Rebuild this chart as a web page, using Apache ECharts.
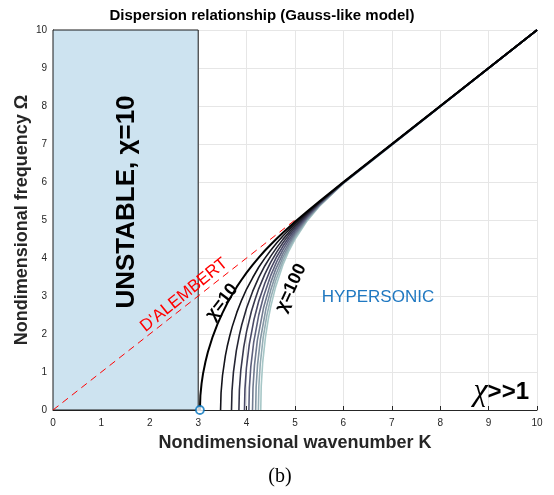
<!DOCTYPE html>
<html>
<head>
<meta charset="utf-8">
<script src="https://cdn.jsdelivr.net/npm/echarts@6/dist/echarts.min.js"></script>
<style>
html,body{margin:0;padding:0;background:#fff;}
#c{width:554px;height:495px;}
</style>
</head>
<body>
<div id="c"></div>
<script>
// ---- data ----
const xTicks = [0,1,2,3,4,5,6,7,8,9,10];
const yTicks = [0,1,2,3,4,5,6,7,8,9,10];
const chiValues = [10,20,30,40,50,60,70,80,90,100];
const unstableK = [0, 3];          // shaded unstable band (K range)
const unstableOmega = [0, 10];
const alembertK = [0, 5];
const alembertOmega = [0, 5];
const cutoffK = [3.035];
const cutoffOmega = [0];

const kChi10 = [3.035,3.045,3.07,3.1,3.15,3.2,3.3,3.4,3.5,3.6,3.7,3.8,3.9,4.0,4.125,4.25,4.375,4.5,4.625,4.75,4.875,5.0,5.25,5.5,6,10];
const wChi10 = [0,0.378,0.702,0.957,1.27,1.525,1.933,2.266,2.55,2.808,3.035,3.246,3.435,3.615,3.82,4.011,4.19,4.355,4.515,4.665,4.81,4.952,5.223,5.486,5.996,10];
const kChi20 = [3.462,3.472,3.502,3.562,3.6,3.65,3.7,3.8,3.9,4.0,4.125,4.25,4.375,4.5,4.625,4.75,4.875,5.0,5.25,5.5,6,10];
const wChi20 = [0,0.455,0.908,1.429,1.676,1.94,2.181,2.575,2.90,3.184,3.48,3.757,3.99,4.206,4.40,4.578,4.745,4.903,5.196,5.471,5.993,10];
const kChi30 = [3.688,3.698,3.728,3.788,3.85,3.9,4.0,4.125,4.25,4.375,4.5,4.625,4.75,4.875,5.0,5.25,5.5,6,10];
const wChi30 = [0,0.500,0.997,1.564,1.972,2.242,2.685,3.12,3.484,3.79,4.050,4.28,4.490,4.68,4.853,5.169,5.457,5.989,10];
const kChi40 = [3.841,3.851,3.881,3.941,4.0,4.1,4.175,4.25,4.375,4.5,4.625,4.75,4.875,5.0,5.25,5.5,6,10];
const wChi40 = [0,0.532,1.058,1.657,2.068,2.598,2.91,3.188,3.57,3.889,4.16,4.400,4.615,4.803,5.142,5.443,5.985,10];
const kChi50 = [3.956,3.966,3.996,4.056,4.15,4.25,4.375,4.5,4.625,4.75,4.875,5.0,5.25,5.5,6,10];
const wChi50 = [0,0.556,1.105,1.728,2.367,2.861,3.33,3.720,4.04,4.308,4.545,4.753,5.115,5.428,5.981,10];
const kChi60 = [4.047,4.057,4.087,4.147,4.25,4.35,4.5,4.625,4.75,4.875,5.0,5.25,5.5,6,10];
const wChi60 = [0,0.575,1.142,1.785,2.492,2.985,3.544,3.91,4.214,4.475,4.702,5.087,5.414,5.978,10];
const kChi70 = [4.122,4.132,4.162,4.222,4.35,4.5,4.6,4.75,4.875,5.0,5.25,5.5,6,10];
const wChi70 = [0,0.591,1.174,1.832,2.690,3.358,3.700,4.117,4.40,4.650,5.060,5.399,5.974,10];
const kChi80 = [4.187,4.197,4.227,4.287,4.4,4.5,4.6,4.75,4.875,5.0,5.25,5.5,6,10];
const wChi80 = [0,0.604,1.201,1.873,2.667,3.162,3.553,4.019,4.33,4.598,5.032,5.385,5.970,10];
const kChi90 = [4.243,4.253,4.283,4.343,4.42,4.5,4.6,4.75,4.875,5.0,5.25,5.5,6,10];
const wChi90 = [0,0.617,1.224,1.909,2.497,2.952,3.400,3.918,4.26,4.545,5.004,5.370,5.967,10];
const kChi100 = [4.292,4.302,4.332,4.392,4.45,4.5,4.6,4.75,4.875,5.0,5.25,5.5,6,10];
const wChi100 = [0,0.627,1.245,1.940,2.405,2.726,3.239,3.815,4.19,4.491,4.976,5.355,5.963,10];

const curveK = [kChi10,kChi20,kChi30,kChi40,kChi50,kChi60,kChi70,kChi80,kChi90,kChi100];
const curveW = [wChi10,wChi20,wChi30,wChi40,wChi50,wChi60,wChi70,wChi80,wChi90,wChi100];
const curveColors = ['#000000','#13131a','#252533','#38384d','#4a4a67','#5d617d','#707a8f','#8294a2','#95aeb5','#a7c7c7'];

function zip(a,b){ return a.map((v,i)=>[v,b[i]]); }

const FONT = '"Liberation Sans", Arial, Helvetica, sans-serif';
const chart = echarts.init(document.getElementById('c'), null, {renderer:'canvas'});

const series = [];
series.push({
  type:'line',
  name:"D'Alembert",
  data: zip(alembertK, alembertOmega),
  symbol:'none',
  lineStyle:{color:'#ff0000', width:1, type:[7,5]},
  z:2,
  markArea:{
    silent:true,
    itemStyle:{color:'#cde3f0', borderColor:'#1a1a1a', borderWidth:1},
    data:[[{xAxis:unstableK[0], yAxis:unstableOmega[0]},{xAxis:unstableK[1], yAxis:unstableOmega[1]}]]
  }
});
for (let i = chiValues.length-1; i >= 0; i--) {
  series.push({
    type:'line',
    name:'chi='+chiValues[i],
    data: zip(curveK[i], curveW[i]),
    symbol:'none',
    smooth:false,
    lineStyle:{color:curveColors[i], width: i===0 ? 2 : 1.6, join:'round'},
    z:3
  });
}
series.push({
  type:'scatter',
  data: zip(cutoffK, cutoffOmega),
  symbol:'circle',
  symbolSize:8,
  itemStyle:{color:'#ffffff', borderColor:'#0072BD', borderWidth:1.8},
  z:5
});

const axisCommon = {
  type:'value', min:0, max:10, interval:1,
  axisLine:{show:true, onZero:false, lineStyle:{color:'#262626', width:1}},
  axisTick:{show:true, inside:true, length:4, lineStyle:{color:'#262626'}},
  splitLine:{show:true, lineStyle:{color:'#e6e6e6', width:1}},
  axisLabel:{color:'#262626', fontSize:10, fontFamily:FONT},
  nameLocation:'middle',
  nameMoveOverlap:false,
  nameTextStyle:{color:'#262626', fontSize:18, fontWeight:'bold', fontFamily:FONT}
};

chart.setOption({
  animation:false,
  backgroundColor:'#ffffff',
  grid:{left:53, right:17, top:30, bottom:85, containLabel:false, outerBoundsMode:'none'},
  xAxis: Object.assign({}, axisCommon, {
    name:'Nondimensional wavenumber K', nameGap:24,
    axisLabel:Object.assign({}, axisCommon.axisLabel, {margin:8, formatter:(v)=> xTicks.includes(v)? String(v):''})
  }),
  yAxis: Object.assign({}, axisCommon, {
    name:'Nondimensional frequency Ω', nameGap:22,
    axisLabel:Object.assign({}, axisCommon.axisLabel, {margin:6, formatter:(v)=> yTicks.includes(v)? String(v):''})
  }),
  series: series,
  graphic:[
    {type:'text', x:262, y:16, style:{text:'Dispersion relationship (Gauss-like model)', font:'bold 15px '+FONT, fill:'#000', textAlign:'center', textVerticalAlign:'middle'}, z:10},
    {type:'text', x:127, y:202, rotation:Math.PI/2, style:{text:'UNSTABLE, χ=10', font:'bold 26px '+FONT, fill:'#000', textAlign:'center', textVerticalAlign:'middle'}, z:10},
    {type:'text', x:184, y:295, rotation:39*Math.PI/180, style:{text:"D'ALEMBERT", font:'17px '+FONT, fill:'#ff0000', textAlign:'center', textVerticalAlign:'middle'}, z:10},
    {type:'text', x:222, y:302, rotation:52*Math.PI/180, style:{text:'χ=10', font:'bold 18px '+FONT, fill:'#000', textAlign:'center', textVerticalAlign:'middle'}, z:10},
    {type:'text', x:291, y:288, rotation:65*Math.PI/180, style:{text:'χ=100', font:'bold 18px '+FONT, fill:'#000', textAlign:'center', textVerticalAlign:'middle'}, z:10},
    {type:'text', x:378, y:297, style:{text:'HYPERSONIC', font:'17px '+FONT, fill:'#1f78c1', textAlign:'center', textVerticalAlign:'middle'}, z:10},
    {type:'text', x:529, y:392, style:{text:'{a|χ}{b|>>1}', textAlign:'right', textVerticalAlign:'middle',
      rich:{a:{font:'italic 32px "Liberation Serif", "DejaVu Serif", serif', fill:'#000'}, b:{font:'bold 24px '+FONT, fill:'#000'}}}, z:10},
    {type:'text', x:280, y:477, style:{text:'(b)', font:'20px "Liberation Serif", "DejaVu Serif", serif', fill:'#000', textAlign:'center', textVerticalAlign:'middle'}, z:10}
  ]
});
</script>
</body>
</html>
